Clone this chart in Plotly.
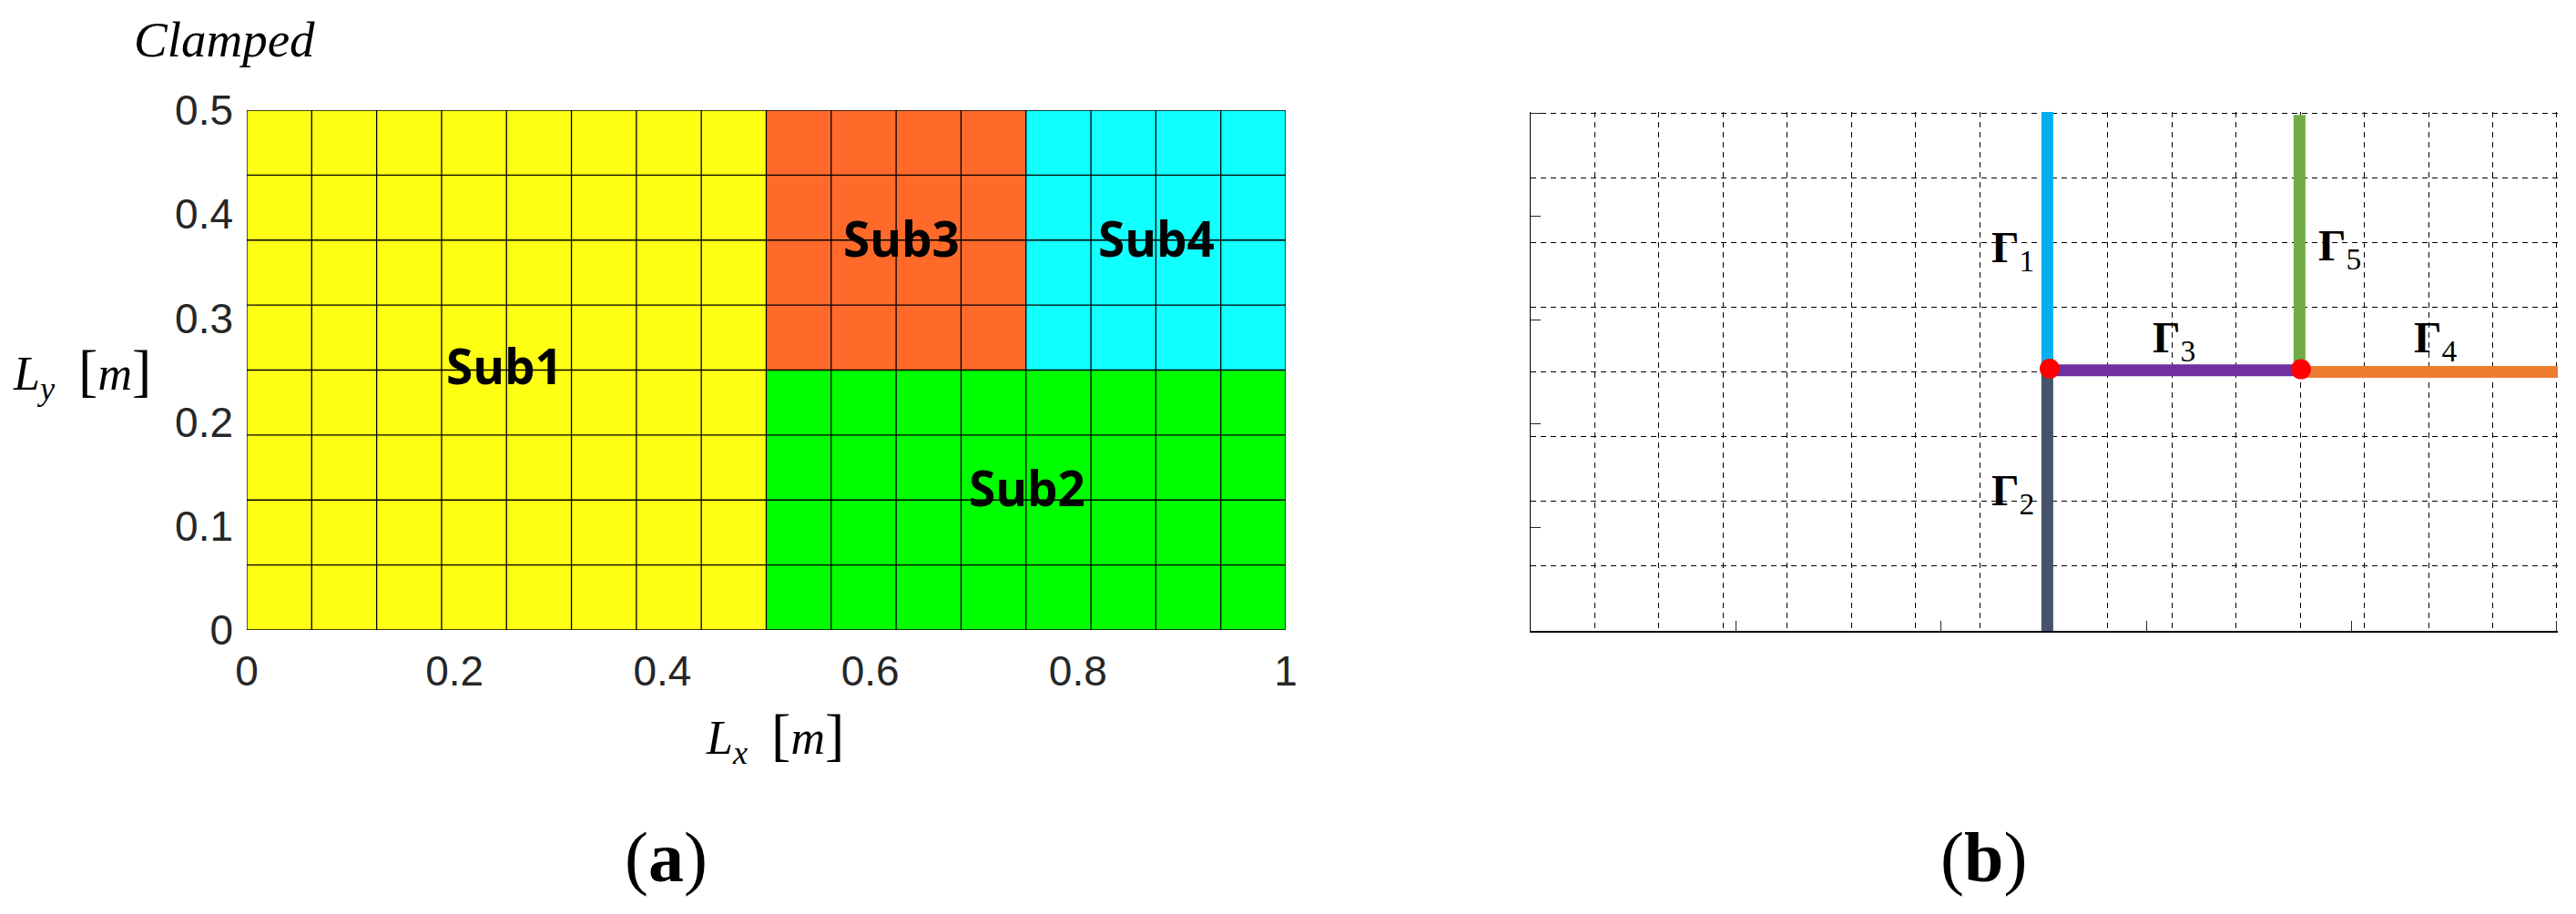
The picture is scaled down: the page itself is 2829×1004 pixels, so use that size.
import plotly.graph_objects as go

W, H = 2829, 1004

# mesh of both panels
mesh_x = [0, 0.0625, 0.125, 0.1875, 0.25, 0.3125, 0.375, 0.4375, 0.5,
          0.5625, 0.625, 0.6875, 0.75, 0.8125, 0.875, 0.9375, 1]
mesh_y = [0, 0.0625, 0.125, 0.1875, 0.25, 0.3125, 0.375, 0.4375, 0.5]

# subdomain number of each mesh cell, bottom row first
lower_row = [1] * 8 + [2] * 8
upper_row = [1] * 8 + [3] * 4 + [4] * 4
cells = [lower_row] * 4 + [upper_row] * 4

sub_names = ['Sub1', 'Sub2', 'Sub3', 'Sub4']
sub_x = [0.248, 0.751, 0.63, 0.8755]
sub_y = [0.254, 0.137, 0.377, 0.377]
sub_colors = ['#FFFF14', '#00FF00', '#FF6A2B', '#10FFFF']

x_ticks = [0, 0.2, 0.4, 0.6, 0.8, 1]
x_tick_labels = ['0', '0.2', '0.4', '0.6', '0.8', '1']
y_ticks = [0, 0.1, 0.2, 0.3, 0.4, 0.5]
y_tick_labels = ['0', '0.1', '0.2', '0.3', '0.4', '0.5']

# interfaces of panel b
gamma_names = ['1', '2', '3', '4', '5']
gamma_x = [[0.5035, 0.5035], [0.5035, 0.5035], [0.5035, 0.7493], [0.7493, 1.0053], [0.7493, 0.7493]]
gamma_y = [[0.2517, 0.5018], [0, 0.2517], [0.2517, 0.2517], [0.25, 0.25], [0.2517, 0.4982]]
gamma_colors = ['#00B0F0', '#44546A', '#7030A0', '#ED7D31', '#70AD47']
gamma_label_x = [0.4703, 0.4703, 0.6273, 0.882, 0.7884]
gamma_label_y = [0.3677, 0.133, 0.2803, 0.2803, 0.369]
junction_x = [0.5058, 0.7507]
junction_y = [0.2531, 0.2526]

fig = go.Figure()

# panel a
colorscale = [[0, sub_colors[0]], [0.25, sub_colors[0]], [0.25, sub_colors[1]], [0.5, sub_colors[1]],
              [0.5, sub_colors[2]], [0.75, sub_colors[2]], [0.75, sub_colors[3]], [1, sub_colors[3]]]
fig.add_trace(go.Heatmap(x=mesh_x, y=mesh_y, z=cells, zmin=0.5, zmax=4.5, colorscale=colorscale,
                         showscale=False, hoverinfo='skip', xaxis='x', yaxis='y'))

line_x, line_y = [], []
for v in mesh_x:
    line_x += [v, v, None]
    line_y += [0, 0.5, None]
for v in mesh_y:
    line_x += [0, 1, None]
    line_y += [v, v, None]
fig.add_trace(go.Scatter(x=line_x, y=line_y, mode='lines', line=dict(color='black', width=1.3),
                         cliponaxis=False, hoverinfo='skip', xaxis='x', yaxis='y'))

# panel b
for i, name in enumerate(gamma_names):
    fig.add_trace(go.Scatter(x=gamma_x[i], y=gamma_y[i], mode='lines', name=name,
                             line=dict(color=gamma_colors[i], width=13),
                             cliponaxis=False, xaxis='x2', yaxis='y2'))
fig.add_trace(go.Scatter(x=junction_x, y=junction_y, mode='markers', name='junction',
                         marker=dict(color='#FF0000', size=22),
                         cliponaxis=False, xaxis='x2', yaxis='y2'))

tick_font = dict(family='Liberation Sans', size=46, color='#262626')
fig.update_layout(
    width=W, height=H,
    margin=dict(l=0, r=0, t=0, b=0),
    paper_bgcolor='white', plot_bgcolor='white',
    showlegend=False,
    xaxis=dict(domain=[271 / W, 1412 / W], range=[0, 1], tickmode='array', tickvals=x_ticks,
               ticktext=x_tick_labels, tickfont=tick_font, ticks='', ticklabelstandoff=14,
               showgrid=False, zeroline=False, automargin=False),
    yaxis=dict(domain=[1 - 692 / H, 1 - 121 / H], range=[0, 0.5], tickmode='array', tickvals=y_ticks,
               ticktext=y_tick_labels, tickfont=tick_font, ticks='', ticklabelstandoff=14,
               showgrid=False, zeroline=False, automargin=False),
)

# ranges run a hair past the last grid line so plotly still draws it
minor_style = dict(showgrid=True, gridcolor='black', gridwidth=1.3, griddash='6px,5px', ticks='')
fig.update_layout(
    xaxis2=dict(domain=[1681 / W, 2809 / W], range=[0, 1.001], anchor='y2', tickmode='array', tickvals=x_ticks,
                showticklabels=False, ticks='inside', ticklen=11, tickcolor='#262626', tickwidth=1,
                showgrid=False, zeroline=False, showline=True, linecolor='black', linewidth=2,
                automargin=False, minor=dict(tick0=0, dtick=0.0625, **minor_style)),
    yaxis2=dict(domain=[1 - 693 / H, 1 - 123 / H], range=[0, 0.501], anchor='x2', tickmode='array', tickvals=y_ticks,
                showticklabels=False, ticks='inside', ticklen=11, tickcolor='#262626', tickwidth=1,
                showgrid=False, zeroline=False, showline=True, linecolor='black', linewidth=1,
                automargin=False, minor=dict(tick0=0, dtick=0.0625, **minor_style)),
)

for i, name in enumerate(sub_names):
    fig.add_annotation(x=sub_x[i], y=sub_y[i], xref='x', yref='y', text=f'<b>{name}</b>', showarrow=False,
                       font=dict(family='Open Sans', size=53, color='black'))

for i, name in enumerate(gamma_names):
    fig.add_annotation(x=gamma_label_x[i], y=gamma_label_y[i], xref='x2', yref='y2',
                       text=f'<b>Γ</b><sub>{name}</sub>', showarrow=False,
                       font=dict(family='Liberation Serif', size=48, color='black'))


def page_text(text, x, y, size, color='black'):
    fig.add_annotation(x=x / W, y=1 - y / H, xref='paper', yref='paper', text=text, showarrow=False,
                       xanchor='center', yanchor='middle',
                       font=dict(family='Liberation Serif', size=size, color=color))


bracket = '<span style="font-size:64px">%s</span>'
page_text('<i>Clamped</i>', 247, 44, 55)
page_text('<i>L<sub>y</sub></i>&nbsp; ' + bracket % '[' + '<i>m</i>' + bracket % ']', 90, 409, 52)
page_text('<i>L<sub>x</sub></i>&nbsp; ' + bracket % '[' + '<i>m</i>' + bracket % ']', 851, 809, 52)
page_text('(<b>a</b>)', 731, 941, 78)
page_text('(<b>b</b>)', 2178, 941, 78)

fig.write_html("out.html", post_script="document.body.style.margin='0';", config={'displayModeBar': False})
